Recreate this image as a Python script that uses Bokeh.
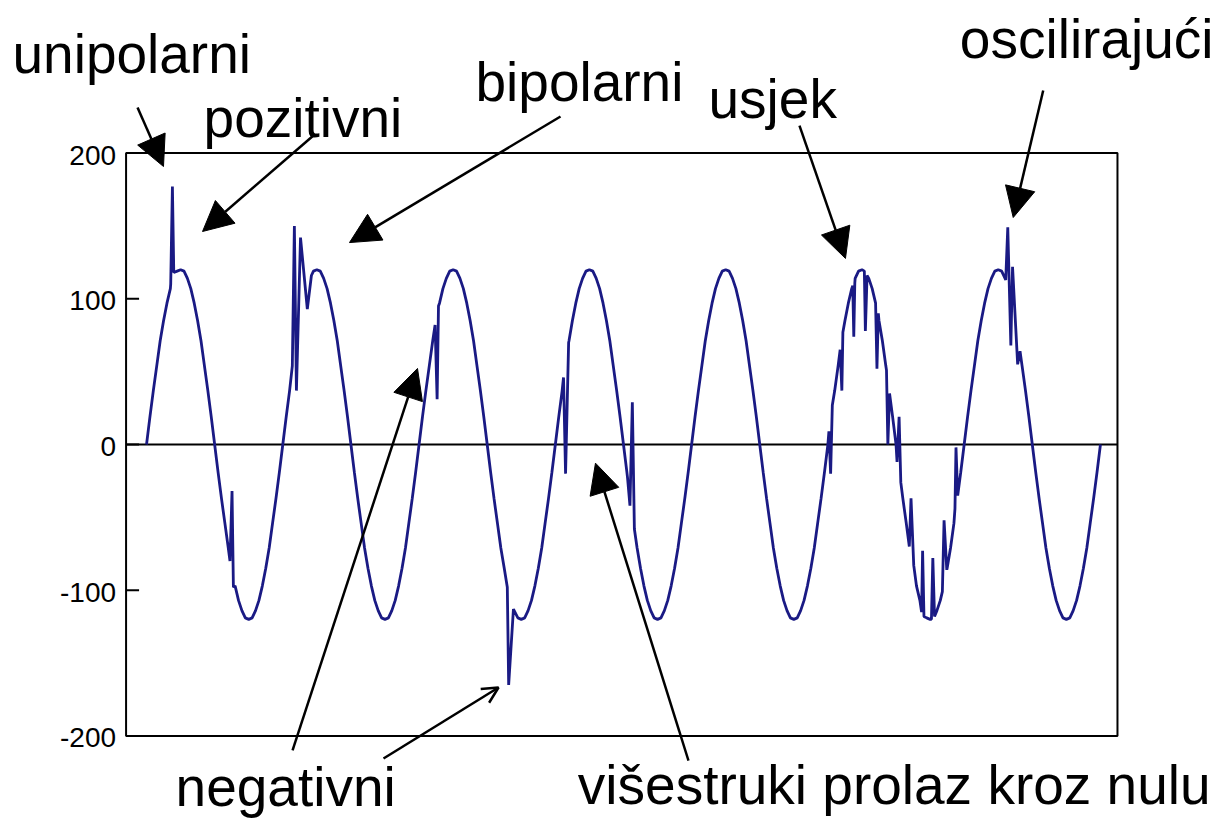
from bokeh.plotting import figure
from bokeh.models import Label, Arrow, NormalHead, OpenHead, Range1d
from bokeh.core.properties import value
from bokeh.embed import file_html
from bokeh.resources import INLINE

# ---------------- data (time in ms, voltage value) ----------------
sample_step_ms = 0.5
# one period of the undisturbed wave, read at 0.5 ms steps
cycle_shape = [0, 19, 37, 54, 71, 85, 97, 107, 114, 119,
               120, 119, 114, 107, 97, 85, 71, 54, 37, 19,
               0, -19, -37, -54, -71, -85, -97, -107, -114, -119,
               -120, -119, -114, -107, -97, -85, -71, -54, -37, -19]
n_cycles = 7

# transients (vertex times / values)
unipolar_t = [3.55, 3.8, 4.0, 4.5]
unipolar_v = [110, 177, 118, 119]

bipolar_t = [21.4, 21.7, 22.0, 22.6, 23.6, 24.2, 24.5]
bipolar_v = [54, 150, 37, 142, 93, 116, 119]

neg_small_t = [12.25, 12.55, 12.75]
neg_small_v = [-80, -32, -98]

negative_t = [42.35, 42.65, 42.85]
negative_v = [82, 31, 95]

neg_spike_t = [52.95, 53.15, 53.85, 54.5]
neg_spike_v = [-98, -165, -113, -119]

zero_a_t = [61.2, 61.5, 61.95]
zero_a_v = [46, -20, 70]

zero_b_t = [70.6, 70.95, 71.3, 71.6]
zero_b_v = [-23, -42, 29, -58]

notch_t = [[100.15, 100.4, 100.65], [101.8, 102.05, 102.2], [103.65, 103.8, 103.95],
           [105.35, 105.5, 105.75], [107.0, 107.2, 107.4], [108.6, 108.8, 109.05],
           [110.0, 110.15, 110.45, 110.7], [111.95, 112.2, 112.6], [113.75, 113.9, 114.1],
           [115.2, 115.4, 115.65], [116.8, 117.05, 117.45], [118.65, 118.8, 119.05]]
notch_v = [[9, -20, 27], [65, 37, 77], [109, 74, 111],
           [119, 78, 116], [97, 52, 90], [51, 0, 35],
           [0, -12, 19, -26], [-70, -37, -83], [-115, -73, -118],
           [-120, -78, -118], [-101, -52, -86], [-44, -2, -35]]

osc_t = [126.1, 126.4, 126.85, 127.1, 127.85, 128.2]
osc_v = [113, 149, 68, 122, 55, 64]

# axis box limits and y tick labels
x_limits = [-3, 142.5]
y_limits = [-200, 200]
y_ticks = [-200, -100, 0, 100, 200]
y_tick_labels = ["-200", "-100", "0", "100", "200"]

# ---------------- build the waveform ----------------
base_v = cycle_shape * n_cycles + [0]
base_t = [i * sample_step_ms for i in range(len(base_v))]

events = [(unipolar_t, unipolar_v), (bipolar_t, bipolar_v), (neg_small_t, neg_small_v),
          (negative_t, negative_v), (neg_spike_t, neg_spike_v), (zero_a_t, zero_a_v),
          (zero_b_t, zero_b_v), (osc_t, osc_v)] + list(zip(notch_t, notch_v))

pts = [(t, v) for t, v in zip(base_t, base_v)
       if not any(ts[0] <= t <= ts[-1] for ts, _ in events)]
for ts, vs in events:
    pts += list(zip(ts, vs))
pts.sort()
xs = [q[0] for q in pts]
ys = [q[1] for q in pts]

# ---------------- figure (frame covers the whole canvas so the
# annotations around the box are not clipped) ----------------
p = figure(width=1220, height=822, output_backend="svg", toolbar_location=None,
           x_range=Range1d(-21.43, 157.62), y_range=Range1d(-259.44, 304.74),
           x_axis_location=None, y_axis_location=None,
           min_border_left=0, min_border_right=0, min_border_top=0, min_border_bottom=0)
p.background_fill_color = "white"
p.border_fill_color = "white"
p.outline_line_color = None
p.grid.visible = False

# axis box
p.quad(left=[x_limits[0]], right=[x_limits[1]], bottom=[y_limits[0]], top=[y_limits[1]],
       fill_color=None, line_color="black", line_width=2)
# y ticks (pointing inward) and labels
p.ray(x=[x_limits[0]] * len(y_ticks), y=y_ticks, length=13, length_units="screen",
      angle=0, line_color="black", line_width=2)
p.text(x=[x_limits[0]] * len(y_ticks), y=y_ticks, text=y_tick_labels, x_offset=-10, y_offset=2,
       text_align="right", text_baseline="middle", text_font=value("Liberation Sans"),
       text_font_size="28px", text_color="black")

# zero line
p.segment(x0=[x_limits[0]], y0=[0], x1=[x_limits[1]], y1=[0], line_color="black", line_width=2)

# waveform
p.line(xs, ys, line_color="#1a1a84", line_width=2.8)

# ---------------- annotations ----------------
label_specs = [
    ("unipolarni", -19.67, 267.7, "left"),
    ("pozitivni", 8.37, 224.4, "left"),
    ("bipolarni", 48.28, 249.1, "left"),
    ("usjek", 82.48, 236.8, "left"),
    ("oscilirajući", 156.6, 278.0, "right"),
    ("negativni", 4.26, -235.4, "left"),
    ("višestruki prolaz kroz nulu", 63.3, -233.4, "left"),
]
for txt, lx, ly, al in label_specs:
    p.add_layout(Label(x=lx, y=ly, text=txt, text_font="Liberation Sans",
                       text_font_size="55px", text_color="black",
                       text_align=al, text_baseline="alphabetic"))

arrow_specs = [
    (-1.32, 231.3, 2.49, 190.8, "filled"),
    (24.5, 212.1, 8.22, 146.2, "filled"),
    (60.76, 225.1, 29.79, 138.6, "filled"),
    (95.83, 218.9, 102.58, 127.7, "filled"),
    (131.6, 243.0, 127.2, 155.8, "filled"),
    (21.43, -210.0, 39.77, 52.2, "filled"),
    (34.78, -215.5, 51.66, -166.8, "open"),
    (79.54, -216.9, 65.89, -12.8, "filled"),
]
for x0, y0, x1, y1, kind in arrow_specs:
    if kind == "filled":
        head = NormalHead(size=30, fill_color="black", line_color="black", line_width=1)
    else:
        head = OpenHead(size=16, line_color="black", line_width=2.5)
    p.add_layout(Arrow(end=head, x_start=x0, y_start=y0, x_end=x1, y_end=y1,
                       line_color="black", line_width=2.5))

open("out.html", "w").write(file_html(p, INLINE))
